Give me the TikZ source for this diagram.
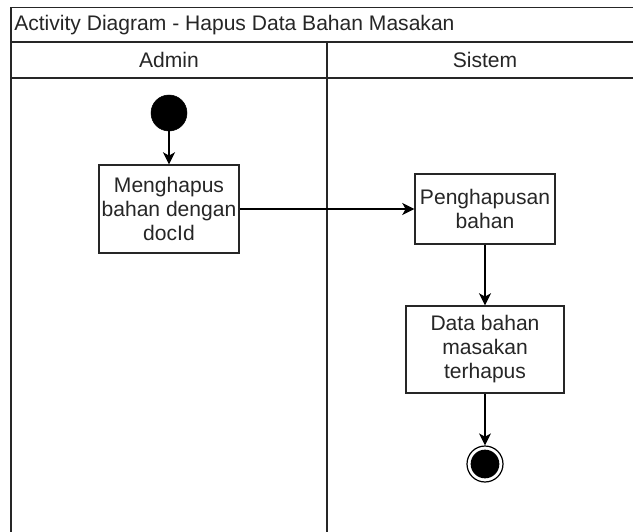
\documentclass[tikz,border=0pt]{standalone}
\usepackage{fontspec}
\setmainfont{Liberation Sans}
\usetikzlibrary{arrows.meta}
\begin{document}
\begin{tikzpicture}[x=0.75pt,y=-0.75pt,
  every node/.style={font=\fontsize{15.8}{18}\selectfont, text=black!85},
  frameline/.style={draw=black!85, line width=1.1pt},
  actbox/.style={draw=black!85, line width=1.1pt, fill=white, align=center, inner sep=0pt},
  flow/.style={draw=black, line width=1.1pt, -{Stealth[length=9pt,width=9pt,inset=2.5pt]}},
  startdot/.style={circle, fill=black, draw=black, minimum size=27pt, inner sep=0pt},
  endring/.style={circle, draw=black, line width=0.9pt, minimum size=27pt, inner sep=0pt},
  enddot/.style={circle, fill=black, minimum size=21.5pt, inner sep=0pt},
]
\clip (0,0) rectangle (633,532);
\fill[white] (0,0) rectangle (633,532);
% frame
\draw[frameline] (11,7.5) rectangle (643,560);
\draw[frameline] (11,42) -- (643,42);
\draw[frameline] (11,78) -- (643,78);
\draw[frameline] (327,42) -- (327,560);
% headers
\node[anchor=west, inner sep=0pt] (title) at (14,25) {Activity Diagram - Hapus Data Bahan Masakan};
\node (admin) at (169,60) {Admin};
\node (sistem) at (485,60) {Sistem};
% nodes
\node[startdot] (start) at (169,113) {};
\node[actbox, minimum width=105pt, minimum height=66pt] (hapus) at (169,209) {Menghapus\\bahan dengan\\docId};
\node[actbox, minimum width=105pt, minimum height=52.5pt] (proses) at (485,209) {Penghapusan\\bahan};
\node[actbox, minimum width=118.5pt, minimum height=65.25pt] (hasil) at (485,349.5) {Data bahan\\masakan\\terhapus};
\node[endring] (final) at (485,464) {};
\node[enddot] (finaldot) at (485,464) {};
% flows
\draw[flow] (start) -- (hapus);
\draw[flow] (hapus) -- (proses);
\draw[flow] (proses) -- (hasil);
\draw[flow] (hasil) -- (final);
\end{tikzpicture}
\end{document}
